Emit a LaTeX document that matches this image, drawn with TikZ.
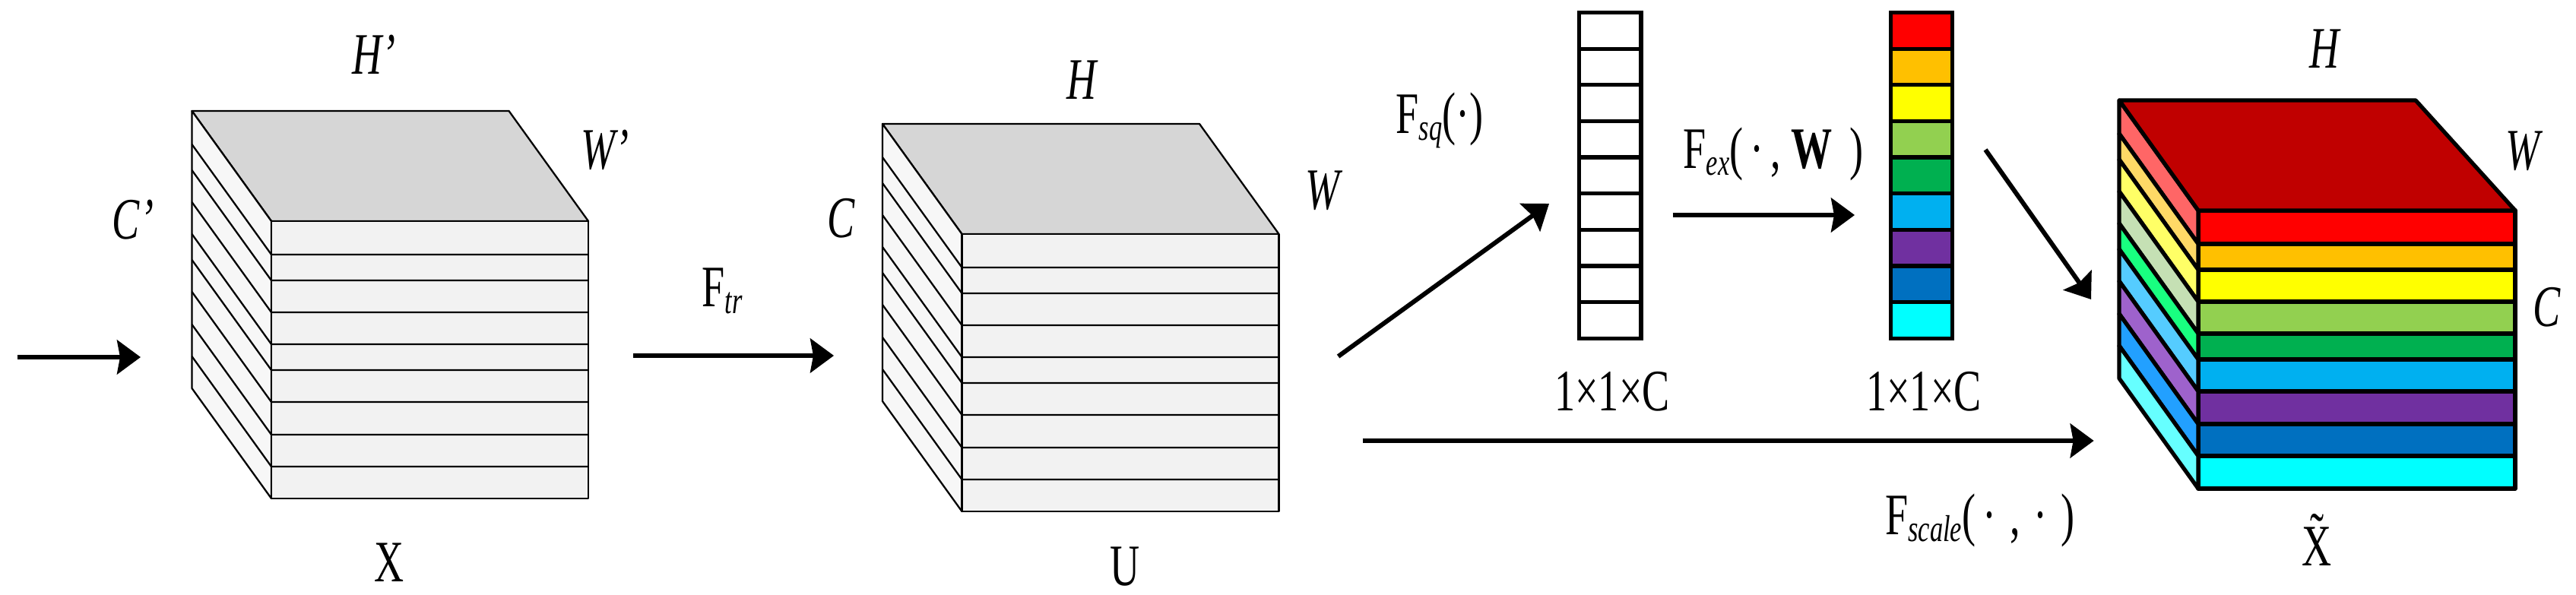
\documentclass[tikz,border=0pt]{standalone}
\usepackage{fontspec}
\setmainfont{Liberation Serif}
\usepackage{graphicx}
\usetikzlibrary{arrows.meta}

\definecolor{topgray}{HTML}{D6D6D6}
\definecolor{sidegray}{HTML}{F7F7F7}
\definecolor{frontgray}{HTML}{F2F2F2}
\definecolor{topred}{HTML}{C00000}
\definecolor{fA}{HTML}{FF0000} \definecolor{sA}{HTML}{FF6666}
\definecolor{fB}{HTML}{FFC000} \definecolor{sB}{HTML}{FFD966}
\definecolor{fC}{HTML}{FFFF00} \definecolor{sC}{HTML}{FFFF66}
\definecolor{fD}{HTML}{92D050} \definecolor{sD}{HTML}{C5E0B4}
\definecolor{fE}{HTML}{00B050} \definecolor{sE}{HTML}{19FF80}
\definecolor{fF}{HTML}{00B0F0} \definecolor{sF}{HTML}{55CCFF}
\definecolor{fG}{HTML}{7030A0} \definecolor{sG}{HTML}{9E62CC}
\definecolor{fH}{HTML}{0070C0} \definecolor{sH}{HTML}{22A0FF}
\definecolor{fI}{HTML}{00FFFF} \definecolor{sI}{HTML}{66FFFF}

\newcommand{\slim}[1]{\scalebox{0.7}[1]{#1}}
\newcommand{\lowsub}[1]{\raisebox{-0.09cm}{\fontsize{14}{14}\selectfont\itshape #1}}
\newcommand{\tildeX}{\ooalign{X\cr\hidewidth\raisebox{0.2em}{˜}\hidewidth\cr}}

% grey feature map, front top-left corner at #1,#2
\newcommand{\greycube}[2]{%
  \begin{scope}[shift={(#1,#2)}, line width=0.65pt, line join=round]
    \filldraw[fill=topgray] (0,0) -- (-1.045,-1.45) -- (3.125,-1.45) -- (4.17,0) -- cycle;
    \filldraw[fill=sidegray] (0,0) -- (-1.045,-1.45) -- (-1.045,2.2) -- (0,3.65) -- cycle;
    \filldraw[fill=frontgray] (0,0) rectangle (4.17,3.65);
    \foreach \d in {.44,.78,1.20,1.62,1.96,2.38,2.81,3.23}
      \draw (0,\d) -- (4.17,\d) (0,\d) -- ++(-1.045,-1.45);
  \end{scope}}

\begin{document}
\begin{tikzpicture}[x=1cm, y=-1cm]
    \tikzset{
        lbl/.style={inner sep=0pt, anchor=base, font=\fontsize{22}{26}\selectfont},
        arr/.style={line width=1.7pt, -{Stealth[length=0.31cm, width=0.45cm, inset=0.04cm]}},
        cell/.style={line width=1.5pt}
    }
    \useasboundingbox (0,0) rectangle (33.89,7.82);

    % the two grey cubes
    \greycube{3.57}{2.91}
    \greycube{12.655}{3.08}

    % squeezed and excited vectors
    \foreach \i in {0,...,8}
        \draw[cell, fill=white] (20.776,0.165+\i*0.4765) rectangle ++(0.814,0.4765);
    \foreach \c [count=\i from 0] in {fA,fB,fC,fD,fE,fF,fG,fH,fI}
        \draw[cell, fill=\c] (24.876,0.165+\i*0.4765) rectangle ++(0.81,0.4765);

    % recalibrated cube
    \begin{scope}[shift={(28.92,2.77)}, line width=1.5pt, line join=round]
        \foreach \a/\b/\fc/\sc in {0/.44/fA/sA, .44/.78/fB/sB, .78/1.20/fC/sC,
            1.20/1.62/fD/sD, 1.62/1.96/fE/sE, 1.96/2.38/fF/sF,
            2.38/2.81/fG/sG, 2.81/3.23/fH/sH, 3.23/3.66/fI/sI}{
            \filldraw[fill=\fc] (0,\a) rectangle (4.17,\b);
            \filldraw[fill=\sc] (0,\a) -- (-1.04,\a-1.45) -- (-1.04,\b-1.45) -- (0,\b) -- cycle;
        }
        \filldraw[fill=topred] (0,0) -- (-1.04,-1.45) -- (2.86,-1.45) -- (4.17,0) -- cycle;
    \end{scope}

    % arrow ends
    \coordinate (inA) at (0.23,4.70);   \coordinate (inB) at (1.85,4.70);
    \coordinate (trA) at (8.33,4.68);   \coordinate (trB) at (10.97,4.68);
    \coordinate (sqA) at (17.606,4.69); \coordinate (sqB) at (20.38,2.68);
    \coordinate (exA) at (22.006,2.83); \coordinate (exB) at (24.40,2.83);
    \coordinate (scA) at (26.12,1.97);  \coordinate (scB) at (27.51,3.94);
    \coordinate (skA) at (17.925,5.80); \coordinate (skB) at (27.546,5.80);

    \draw[arr] (inA) -- (inB);
    \draw[arr] (trA) -- (trB);
    \draw[arr] (sqA) -- (sqB);
    \draw[arr] (exA) -- (exB);
    \draw[arr] (scA) -- (scB);
    \draw[arr] (skA) -- (skB);

    % labels
    \node[lbl] (hX) at (4.92,0.97)   {\slim{\textit{H'}}};
    \node[lbl] (wX) at (7.96,2.22)   {\slim{\textit{W'}}};
    \node[lbl] (cX) at (1.75,3.14)   {\slim{\textit{C'}}};
    \node[lbl] (nX) at (5.12,7.656)  {\slim{X}};
    \node[lbl] (ftr) at (9.50,4.03)  {\slim{F\lowsub{tr}}};
    \node[lbl] (hU) at (14.24,1.307) {\slim{\textit{H}}};
    \node[lbl] (cU) at (11.07,3.12)  {\slim{\textit{C}}};
    \node[lbl] (wU) at (17.42,2.75)  {\slim{\textit{W}}};
    \node[lbl] (nU) at (14.80,7.706) {\slim{U}};
    \node[lbl] (fsq) at (18.94,1.756) {\slim{F\lowsub{sq}(·)}};
    \node[lbl] (fex) at (23.33,2.21)  {\slim{F\lowsub{ex}(\,·\,, \textbf{W}\, )}};
    \node[lbl] (dimA) at (21.21,5.40) {\slim{1×1×C}};
    \node[lbl] (dimB) at (25.31,5.40) {\slim{1×1×C}};
    \node[lbl] (fsc) at (26.05,7.03)  {\slim{F\lowsub{scale}(\,·\,\,,\,\,·\,\,)}};
    \node[lbl] (hR) at (30.59,0.898) {\slim{\textit{H}}};
    \node[lbl] (wR) at (33.21,2.23)  {\slim{\textit{W}}};
    \node[lbl] (cR) at (33.51,4.29)  {\slim{\textit{C}}};
    \node[lbl] (nR) at (30.48,7.44)  {\slim{\tildeX}};

\end{tikzpicture}
\end{document}
